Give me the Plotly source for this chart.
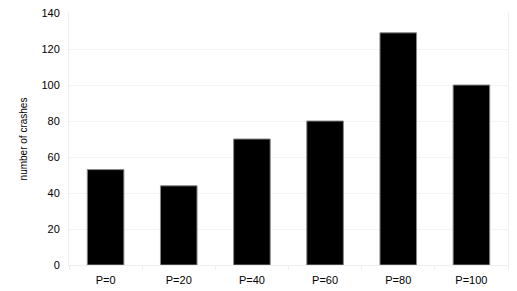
import plotly.graph_objects as go

categories = ["P=0", "P=20", "P=40", "P=60", "P=80", "P=100"]
crashes = [53, 44, 70, 80, 129, 100]
y_ticks = [0, 20, 40, 60, 80, 100, 120, 140]

fig = go.Figure(go.Bar(
    x=categories, y=crashes,
    marker=dict(color="black", line=dict(color="#888888", width=1)),
))

# page body has an 8px default margin, so the figure is sized to fit the window
fig.update_layout(
    width=509, height=283,
    margin=dict(l=61, r=9, t=5, b=26, autoexpand=False),
    paper_bgcolor="white", plot_bgcolor="white",
    bargap=0.5,
    showlegend=False,
    font=dict(family="Liberation Sans, Arial, sans-serif", size=11, color="#000000"),
)
fig.update_xaxes(
    automargin=False,
    showgrid=False, showline=True, linecolor="#eeeeee", linewidth=1,
    ticks="outside", tickson="boundaries", ticklen=4, tickcolor="#eeeeee",
    ticklabelstandoff=5,
    tickfont=dict(size=11),
)
fig.update_yaxes(
    automargin=False,
    range=[0, 140], tickvals=y_ticks,
    showgrid=True, gridcolor="#f3f3f3", gridwidth=1,
    showline=True, linecolor="#eeeeee", mirror=True,
    zeroline=False, ticks="", ticklabelstandoff=6,
    ticklabeloverflow="allow",
    title=dict(text="number of crashes", font=dict(size=10), standoff=11),
    tickfont=dict(size=11),
)

fig.write_html("out.html")
